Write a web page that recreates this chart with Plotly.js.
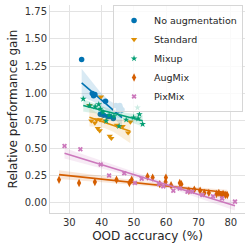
<!DOCTYPE html>
<html>
<head>
<meta charset="utf-8">
<script src="https://cdn.plot.ly/plotly-3.0.1.min.js"></script>
<style>html,body{margin:0;padding:0;background:#fff;}#chart{width:250px;height:251px;}</style>
</head>
<body>
<div id="chart"></div>
<script>
const seriesNames = ["No augmentation", "Standard", "Mixup", "AugMix", "PixMix"];

const noAugX = [33.8, 37.1, 37.5, 37.9, 41.2, 39.6, 40.6, 41.9, 42.5, 43.6, 44.4, 45.6, 45.2, 46.3, 45.8];
const noAugY = [1.31, 1.00, 0.98, 0.99, 0.93, 0.81, 0.80, 0.79, 0.79, 0.77, 0.89, 0.89, 0.85, 0.85, 0.87];

const standardX = [36.2, 39.8, 37.9, 38.4, 39.5, 38.8, 39.4, 42.5, 43.0, 46.5, 48.2, 48.9, 44.7, 41.0, 36.8];
const standardY = [0.89, 0.97, 0.73, 0.76, 0.76, 0.68, 0.66, 0.61, 0.59, 0.70, 0.64, 0.74, 0.71, 0.75, 0.75];

const mixupX = [34.3, 36.3, 39.1, 39.6, 40.4, 42.3, 43.8, 45.4, 47.6, 49.9, 51.1, 51.3, 51.7, 52.7, 41.4, 38.0];
const mixupY = [0.95, 0.89, 0.90, 0.86, 0.83, 0.80, 0.79, 0.70, 0.76, 0.78, 0.87, 0.77, 0.81, 0.72, 0.75, 0.88];

const augmixX = [26.8, 33.0, 37.9, 44.6, 48.6, 49.3, 54.2, 55.8, 59.9, 59.8, 64.2, 64.7, 68.7, 70.5, 71.8, 73.2, 75.6, 76.3, 77.0, 77.6, 78.3, 78.9, 58.0, 61.5, 67.0];
const augmixY = [0.21, 0.18, 0.19, 0.21, 0.18, 0.21, 0.24, 0.23, 0.23, 0.19, 0.18, 0.17, 0.12, 0.11, 0.09, 0.09, 0.08, 0.09, 0.07, 0.08, 0.07, 0.07, 0.17, 0.16, 0.11];

const pixmixX = [28.5, 33.4, 39.7, 42.3, 47.0, 50.3, 52.4, 57.8, 59.1, 62.2, 64.2, 66.6, 68.1, 71.2, 74.5, 77.3, 81.3];
const pixmixY = [0.52, 0.49, 0.35, 0.25, 0.27, 0.18, 0.22, 0.17, 0.15, 0.11, 0.13, 0.10, 0.10, 0.07, 0.06, 0.04, 0.01];

const xTicks = [30, 40, 50, 60, 70, 80];
const yTicks = [0.00, 0.25, 0.50, 0.75, 1.00, 1.25, 1.50, 1.75];

const colors = ["#0173b2", "#de8f05", "#029e73", "#d55e00", "#cc78bc"];
const symbols = ["circle", "triangle-down", "star", "diamond-tall", "x"];
const sizes = [5.5, 5.5, 5, 6, 4.5];

const groups = [[noAugX, noAugY], [standardX, standardY], [mixupX, mixupY], [augmixX, augmixY], [pixmixX, pixmixY]];

function hexToRgba(h, a) {
  const r = parseInt(h.slice(1,3),16), g = parseInt(h.slice(3,5),16), b = parseInt(h.slice(5,7),16);
  return `rgba(${r},${g},${b},${a})`;
}

function regression(xs, ys) {
  const n = xs.length;
  const mx = xs.reduce((a,b)=>a+b,0)/n, my = ys.reduce((a,b)=>a+b,0)/n;
  let sxx=0, sxy=0;
  for (let i=0;i<n;i++){ sxx += (xs[i]-mx)**2; sxy += (xs[i]-mx)*(ys[i]-my); }
  const b = sxy/sxx, a = my - b*mx;
  let sse = 0;
  for (let i=0;i<n;i++){ sse += (ys[i]-(a+b*xs[i]))**2; }
  const s = Math.sqrt(sse/(n-2));
  const t = 2.1;
  const lo = Math.min(...xs), hi = Math.max(...xs);
  const gx=[], gy=[], up=[], dn=[];
  const N = 60;
  for (let k=0;k<=N;k++){
    const x = lo + (hi-lo)*k/N;
    const yh = a + b*x;
    const se = s*Math.sqrt(1/n + (x-mx)**2/sxx);
    gx.push(x); gy.push(yh); up.push(yh + t*se); dn.push(yh - t*se);
  }
  return {gx, gy, up, dn};
}

const traces = [];
groups.forEach((g, i) => {
  const [xs, ys] = g;
  traces.push({
    x: xs, y: ys, type: "scatter", mode: "markers", name: seriesNames[i],
    marker: {color: colors[i], symbol: symbols[i], size: sizes[i], line: {width: 0}},
    hoverinfo: "skip"
  });
  const r = regression(xs, ys);
  traces.push({
    x: r.gx.concat(r.gx.slice().reverse()),
    y: r.up.concat(r.dn.slice().reverse()),
    type: "scatter", mode: "lines", fill: "toself",
    fillcolor: hexToRgba(colors[i], 0.15), line: {width: 0},
    showlegend: false, hoverinfo: "skip"
  });
  traces.push({
    x: r.gx, y: r.gy, type: "scatter", mode: "lines",
    line: {color: colors[i], width: 1.6}, showlegend: false, hoverinfo: "skip"
  });
});

const font = "DejaVu Sans, sans-serif";
const layout = {
  width: 250, height: 251,
  margin: {l: 50, r: 5, t: 5, b: 38},
  paper_bgcolor: "#fff", plot_bgcolor: "#fff",
  showlegend: true,
  legend: {
    x: 0.99, y: 1, xanchor: "right", yanchor: "top",
    bgcolor: "rgba(255,255,255,0.8)", bordercolor: "#d6d6d6", borderwidth: 1,
    font: {family: font, size: 9.5, color: "#262626"},
    itemwidth: 30, tracegroupgap: 0
  },
  xaxis: {
    range: [24.0, 84.4], tickvals: xTicks, ticktext: xTicks.map(String),
    showgrid: true, gridcolor: "#e3e3e3", gridwidth: 1, zeroline: false,
    showline: true, linecolor: "#d6d6d6", linewidth: 1, mirror: false,
    ticks: "", tickfont: {family: font, size: 10, color: "#333"},
    title: {text: "OOD accuracy (%)", font: {family: font, size: 12, color: "#262626"}, standoff: 4},
    automargin: false
  },
  yaxis: {
    range: [-0.094, 1.81], tickvals: yTicks, ticktext: yTicks.map(v => v.toFixed(2)),
    showgrid: true, gridcolor: "#e3e3e3", gridwidth: 1, zeroline: false,
    showline: true, linecolor: "#d6d6d6", linewidth: 1, mirror: false,
    ticks: "", tickfont: {family: font, size: 10, color: "#333"},
    title: {text: "Relative performance gain", font: {family: font, size: 12, color: "#262626"}, standoff: 4},
    automargin: false
  }
};

Plotly.newPlot("chart", traces, layout, {displayModeBar: false, staticPlot: true});
</script>
</body>
</html>
